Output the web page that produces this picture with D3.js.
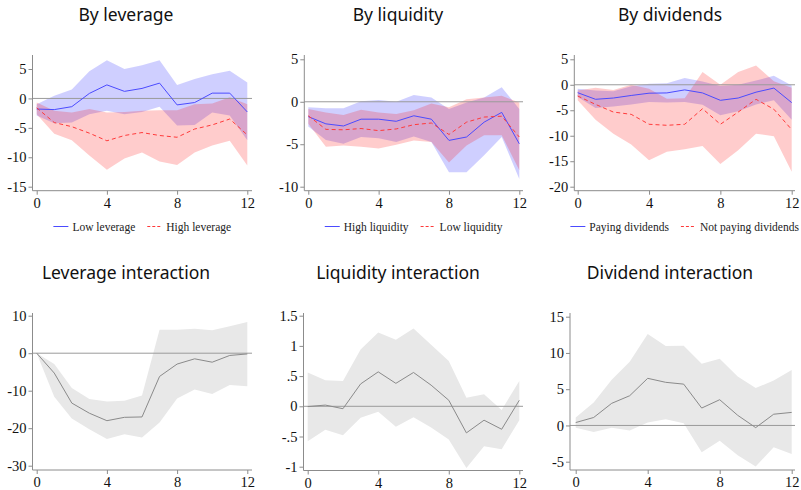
<!DOCTYPE html>
<html><head><meta charset="utf-8">
<script src="https://cdn.jsdelivr.net/npm/d3@7"></script>
<style>body{margin:0;background:#fff} svg{display:block}</style>
</head><body>
<svg id="chart" width="801" height="490"></svg>
<script>
// ---------- data ----------
const horizons = [0,1,2,3,4,5,6,7,8,9,10,11,12];
const xTicks = [0,4,8,12];

// By leverage
const lowLevMean  = [-1.8,-1.9,-1.4,0.85,2.3,1.2,1.7,2.6,-1.1,-0.7,0.9,0.9,-2.3];
const lowLevUpper = [-1.0,0.45,1.5,4.6,6.5,5.0,5.65,6.5,2.3,3.3,4.1,4.7,2.7];
const lowLevLower = [-2.9,-4.2,-4.1,-2.7,-2.1,-2.7,-2.3,-1.4,-4.6,-4.5,-2.4,-2.9,-7.1];
const highLevMean  = [-1.6,-4.1,-4.8,-5.9,-7.2,-6.3,-5.8,-6.3,-6.6,-5.2,-4.5,-3.5,-6.2];
const highLevUpper = [-0.7,-2.1,-2.4,-1.8,-2.4,-2.3,-2.1,-2.0,-2.0,-1.0,-0.85,0.2,-1.0];
const highLevLower = [-2.7,-6.0,-7.1,-9.7,-12.1,-10.2,-9.2,-10.7,-11.3,-9.2,-8.0,-7.2,-11.4];
const levTicks = [-15,-10,-5,0,5];

// By liquidity
const highLiqMean  = [-1.75,-2.6,-2.85,-2.05,-2.05,-2.3,-1.65,-2.05,-4.55,-4.15,-2.4,-1.25,-4.95];
const highLiqUpper = [-0.65,-0.75,-0.75,0.05,0.2,0.0,0.8,0.5,-0.85,-0.1,0.5,1.7,-0.85];
const highLiqLower = [-2.9,-4.5,-4.95,-4.15,-4.3,-4.75,-4.1,-4.75,-8.3,-8.3,-6.3,-4.15,-9.1];
const lowLiqMean  = [-1.65,-3.25,-3.3,-3.15,-3.4,-3.2,-2.7,-2.5,-3.85,-2.4,-1.8,-1.7,-4.15];
const lowLiqUpper = [-0.85,-1.25,-1.55,-0.95,-1.25,-1.45,-1.0,-0.2,-0.65,0.3,0.5,0.7,-0.1];
const lowLiqLower = [-2.6,-5.3,-5.15,-5.3,-5.5,-5.05,-4.55,-4.75,-7.15,-5.15,-3.95,-3.95,-8.05];
const liqTicks = [-10,-5,0,5];

// By dividends
const payDivMean  = [-1.55,-2.85,-2.6,-2.1,-1.65,-1.6,-1.0,-1.6,-3.05,-2.6,-1.45,-0.65,-3.5];
const payDivUpper = [-0.8,-1.1,-1.25,-0.3,0.2,0.3,1.35,0.65,-0.25,0.0,0.85,1.75,-0.15];
const payDivLower = [-2.4,-4.55,-4.25,-3.85,-3.4,-3.5,-3.4,-3.9,-6.0,-5.2,-3.85,-3.05,-6.85];
const noDivMean  = [-2.2,-3.85,-5.35,-5.8,-7.75,-7.95,-7.75,-4.7,-7.75,-5.35,-2.85,-4.8,-8.8];
const noDivUpper = [-1.1,-0.6,-1.0,0.0,-0.8,-2.75,-2.65,2.5,0.0,2.5,3.8,0.7,-0.6];
const noDivLower = [-3.05,-6.85,-9.6,-11.7,-14.8,-13.15,-12.65,-12.0,-15.55,-12.85,-9.6,-10.1,-17.05];
const divTicks = [-20,-15,-10,-5,0,5];

// Leverage interaction
const levIntMean  = [0,-5.3,-13.3,-16.0,-18.0,-17.1,-17.0,-6.2,-2.9,-1.5,-2.4,-0.6,-0.2];
const levIntUpper = [0,-2.9,-9.3,-12.2,-12.9,-12.7,-11.3,6.25,6.25,6.5,6.1,7.2,8.3];
const levIntLower = [0,-11.6,-17.4,-20.3,-22.9,-21.6,-22.5,-18.5,-12.1,-9.7,-10.9,-8.5,-8.8];
const levIntTicks = [-30,-20,-10,0,10];

// Liquidity interaction
const liqIntMean  = [-0.005,0.02,-0.04,0.37,0.57,0.38,0.56,0.35,0.1,-0.44,-0.23,-0.38,0.1];
const liqIntUpper = [0.56,0.43,0.42,0.94,1.22,1.1,1.29,1.02,0.75,0.14,0.2,-0.06,0.42];
const liqIntLower = [-0.58,-0.39,-0.48,-0.19,-0.09,-0.34,-0.18,-0.35,-0.55,-1.02,-0.66,-0.71,-0.23];
const liqIntTicks = [-1,-0.5,0,0.5,1,1.5];

// Dividend interaction
const divIntMean  = [0.4,1.1,3.05,4.1,6.5,5.95,5.7,2.4,3.55,1.4,-0.3,1.55,1.8];
const divIntUpper = [1.1,3.15,6.3,8.8,12.6,10.95,11.0,8.5,9.2,6.75,5.15,6.2,7.65];
const divIntLower = [-0.3,-0.9,-0.3,-0.7,0.4,0.85,0.3,-3.7,-2.1,-4.1,-5.65,-3.0,-3.95];
const divIntTicks = [-5,0,5,10,15];

// ---------- styles ----------
const BLUE = "#4b4bff", RED = "#ff3a3a";
const BLUE_FILL = "rgba(0,0,255,0.19)", RED_FILL = "rgba(255,0,0,0.2)";
const GRAY_FILL = "#e8e8e8", GRAY_LINE = "#8a8a8a", AXIS = "#8c8c8c";

// ---------- layout ----------
const panels = [
  {title:"By leverage", tx:126, ty:21, ax:32.5, x0:36.7, x1:247.3, xEnd:252, yTop:55, yBot:190.7,
   ticks:levTicks, tPix:[186.7,69],
   series:[
     {lo:lowLevLower, hi:lowLevUpper, mean:lowLevMean, fill:BLUE_FILL, color:BLUE, dash:null, name:"Low leverage"},
     {lo:highLevLower, hi:highLevUpper, mean:highLevMean, fill:RED_FILL, color:RED, dash:"4,3", name:"High leverage"}]},
  {title:"By liquidity", tx:398, ty:21, ax:304.3, x0:308.3, x1:519.3, xEnd:523, yTop:55, yBot:190.7,
   ticks:liqTicks, tPix:[186.7,59.3],
   series:[
     {lo:highLiqLower, hi:highLiqUpper, mean:highLiqMean, fill:BLUE_FILL, color:BLUE, dash:null, name:"High liquidity"},
     {lo:lowLiqLower, hi:lowLiqUpper, mean:lowLiqMean, fill:RED_FILL, color:RED, dash:"4,3", name:"Low liquidity"}]},
  {title:"By dividends", tx:670, ty:21, ax:574.3, x0:577.7, x1:791.7, xEnd:795, yTop:55, yBot:190.7,
   ticks:divTicks, tPix:[186.7,59.3],
   series:[
     {lo:payDivLower, hi:payDivUpper, mean:payDivMean, fill:BLUE_FILL, color:BLUE, dash:null, name:"Paying dividends"},
     {lo:noDivLower, hi:noDivUpper, mean:noDivMean, fill:RED_FILL, color:RED, dash:"4,3", name:"Not paying dividends"}]},
  {title:"Leverage interaction", tx:126, ty:279, ax:32.5, x0:36.7, x1:247.3, xEnd:252, yTop:313, yBot:470,
   ticks:levIntTicks, tPix:[465.7,315.7],
   series:[{lo:levIntLower, hi:levIntUpper, mean:levIntMean, fill:GRAY_FILL, color:GRAY_LINE, dash:null}]},
  {title:"Liquidity interaction", tx:398, ty:279, ax:303.5, x0:307.7, x1:519.3, xEnd:523, yTop:313, yBot:470.5,
   ticks:liqIntTicks, tPix:[466.7,315.7],
   series:[{lo:liqIntLower, hi:liqIntUpper, mean:liqIntMean, fill:GRAY_FILL, color:GRAY_LINE, dash:null}]},
  {title:"Dividend interaction", tx:670, ty:279, ax:570, x0:575.7, x1:791.7, xEnd:795, yTop:313, yBot:470,
   ticks:divIntTicks, tPix:[461.7,316.7],
   series:[{lo:divIntLower, hi:divIntUpper, mean:divIntMean, fill:GRAY_FILL, color:GRAY_LINE, dash:null}]}
];

const fmt = v => {
  if (v === 0) return "0";
  let s = String(Math.abs(v));
  if (Math.abs(v) < 1) s = s.replace(/^0/, "");
  return (v < 0 ? "-" : "") + s;
};

const svg = d3.select("#chart");
const SERIF = "Liberation Serif, Times New Roman, serif";
const SANS = "Noto Sans, Open Sans, sans-serif";

panels.forEach(p => {
  const g = svg.append("g");
  const x = d3.scaleLinear().domain([horizons[0], horizons[horizons.length-1]]).range([p.x0, p.x1]);
  const y = d3.scaleLinear().domain([p.ticks[0], p.ticks[p.ticks.length-1]]).range(p.tPix);

  // bands
  p.series.forEach(s => {
    const area = d3.area().x((d,i) => x(horizons[i])).y0((d,i) => y(s.lo[i])).y1((d,i) => y(s.hi[i]));
    g.append("path").attr("d", area(horizons)).attr("fill", s.fill).attr("stroke", "none");
  });

  // zero line
  g.append("line").attr("x1", p.ax).attr("x2", p.xEnd).attr("y1", y(0)).attr("y2", y(0))
    .attr("stroke", "#9a9a9a").attr("stroke-width", 1);

  // mean lines
  p.series.forEach(s => {
    const line = d3.line().x((d,i) => x(horizons[i])).y((d,i) => y(s.mean[i]));
    g.append("path").attr("d", line(horizons)).attr("fill", "none")
      .attr("stroke", s.color).attr("stroke-width", 1)
      .attr("stroke-dasharray", s.dash);
  });

  // y axis
  const ya = g.append("g").attr("transform", `translate(${p.ax},0)`)
    .call(d3.axisLeft(y).tickValues(p.ticks).tickFormat(fmt).tickSize(4).tickSizeOuter(0).tickPadding(2));
  ya.attr("font-family", SERIF).attr("font-size", 14.5);
  ya.select(".domain").remove();
  ya.append("line").attr("x1", 0).attr("x2", 0).attr("y1", p.yTop).attr("y2", p.yBot).attr("stroke", AXIS);
  ya.selectAll(".tick line").attr("stroke", AXIS);
  ya.selectAll(".tick text").attr("fill", "#111");

  // x axis
  const xa = g.append("g").attr("transform", `translate(0,${p.yBot})`)
    .call(d3.axisBottom(x).tickValues(xTicks).tickFormat(d3.format("d")).tickSize(4).tickSizeOuter(0).tickPadding(3));
  xa.attr("font-family", SERIF).attr("font-size", 14.5);
  xa.select(".domain").remove();
  xa.append("line").attr("x1", p.ax).attr("x2", p.xEnd).attr("y1", 0).attr("y2", 0).attr("stroke", AXIS);
  xa.selectAll(".tick line").attr("stroke", AXIS);
  xa.selectAll(".tick text").attr("fill", "#111");

  // title
  svg.append("text").attr("x", p.tx).attr("y", p.ty).attr("text-anchor", "middle")
    .attr("font-family", SANS).attr("font-size", 17.5).attr("fill", "#111").text(p.title);

  // legend
  const named = p.series.filter(s => s.name);
  if (named.length) {
    const lg = svg.append("g");
    let cx = 0;
    const lineW = 15, gap1 = 4, gap2 = 12;
    named.forEach((s, i) => {
      const item = lg.append("g").attr("transform", `translate(${cx},0)`);
      item.append("line").attr("x1", 0).attr("x2", lineW).attr("y1", 0).attr("y2", 0)
        .attr("stroke", s.color).attr("stroke-width", 1).attr("stroke-dasharray", s.dash ? "3,2" : null);
      const t = item.append("text").attr("x", lineW + gap1).attr("y", 4)
        .attr("font-family", SERIF).attr("font-size", 11.5).attr("fill", "#222").text(s.name);
      cx += lineW + gap1 + t.node().getComputedTextLength() + gap2;
    });
    const total = cx - gap2;
    const center = (p.ax + p.xEnd) / 2;
    lg.attr("transform", `translate(${center - total/2},226.5)`);
  }
});
</script>
</body></html>
